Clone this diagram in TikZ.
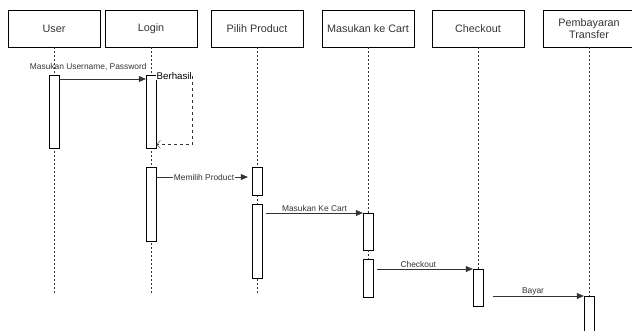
\documentclass[tikz,border=0pt]{standalone}
\usepackage{fontspec}
\setmainfont{Liberation Sans}
\usetikzlibrary{arrows.meta,calc}
\definecolor{line-gray}{HTML}{333333}

\begin{document}
\begin{tikzpicture}[
  x=1pt, y=-1pt,
  actor/.style={rectangle, draw, minimum width=92pt, minimum height=37pt,
    font=\fontsize{10.8}{12}\selectfont, text=line-gray, align=center, inner sep=1pt},
  act/.style={rectangle, draw, fill=white, minimum width=10pt, inner sep=0pt, anchor=north},
  life/.style={draw=line-gray, dash pattern=on 2pt off 2pt},
  msg/.style={draw=line-gray, -{Triangle[length=7pt,width=6pt]}},
  reply/.style={draw=line-gray, dashed, -{Straight Barb[length=4pt,width=8pt]}},
  mlabel/.style={font=\fontsize{8.4}{10}\selectfont, text=line-gray, inner sep=1pt},
]
  \useasboundingbox (0,0) rectangle (632,330);
  \node[actor] (user)     at (54,28.5)  {User};
  \node[actor] (login)    at (151,28.5) {Login};
  \node[actor] (pilih)    at (257,28.5) {Pilih Product};
  \node[actor] (cart)     at (368,28.5) {Masukan ke Cart};
  \node[actor] (checkout) at (478,28.5) {Checkout};
  \node[actor] (bayar)    at (589,28.5) {Pembayaran\\Transfer};
  \coordinate (userend)  at (54,294);
  \coordinate (loginend) at (151,294);
  \coordinate (pilihend) at (257,294);
  \draw[life] (user) -- (userend);
  \draw[life] (login) -- (loginend);
  \draw[life] (pilih) -- (pilihend);
  \node[act, minimum height=73pt] (ua)  at (54,75)   {};
  \node[act, minimum height=73pt] (la1) at (151,75)  {};
  \node[act, minimum height=74pt] (la2) at (151,167) {};
  \node[act, minimum height=28pt] (pa1) at (257,167) {};
  \node[act, minimum height=74pt] (pa2) at (257,204) {};
  \node[act, minimum height=37pt] (ca1) at (368,213) {};
  \node[act, minimum height=38pt] (ca2) at (368,259) {};
  \node[act, minimum height=37pt] (ko)  at (478,269) {};
  \node[act, minimum height=40pt] (ba)  at (589,296) {};
  \draw[life] (cart) -- (ca1);
  \draw[life] (ca1) -- (ca2);
  \draw[life] (checkout) -- (ko);
  \draw[life] (bayar) -- (ba);
  \draw[msg] ($(ua.north east)+(0,4)$) -- node[mlabel, pos=1, anchor=south east, yshift=7pt, xshift=2pt] {Masukan Username, Password} ($(la1.north west)+(0,4)$);
  \draw[reply] ($(la1.north east)+(0,1)$) -| node[pos=0.25, fill=white, inner sep=0.5pt, font=\fontsize{9.7}{11}\selectfont] {Berhasil} ($(la1.south east)+(36,-4)$) -- ($(la1.south east)+(0,-4)$);
  \draw[msg, shorten >=4pt] ($(la2.north east)+(0,10)$) -- node[mlabel, fill=white] {Memilih Product} ($(pa1.north west)+(0,10)$);
  \draw[msg] ($(pa2.north east)+(4,9)$) -- node[mlabel, above] {Masukan Ke Cart} (ca1.north west);
  \draw[msg] ($(ca2.north east)+(4,10)$) -- node[mlabel, above, pos=0.43] {Checkout} (ko.north west);
  \draw[msg] ($(ko.north east)+(10,27)$) -- node[mlabel, above, pos=0.44] {Bayar} (ba.north west);
\end{tikzpicture}
\end{document}
